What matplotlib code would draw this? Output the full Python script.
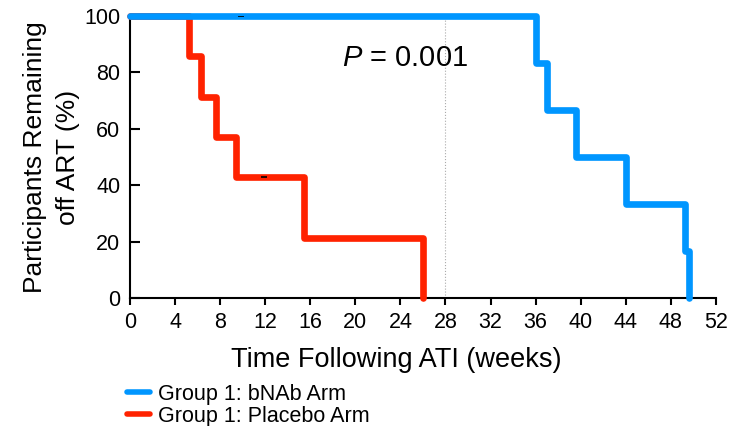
import numpy as np
import matplotlib.pyplot as plt

plt.rcParams['font.family'] = ['Liberation Sans', 'DejaVu Sans']
plt.rcParams['mathtext.fontset'] = 'custom'
plt.rcParams['mathtext.it'] = 'Liberation Sans:italic'
plt.rcParams['mathtext.rm'] = 'Liberation Sans'

# Kaplan-Meier style data
placebo_weeks = [0, 5.2, 6.3, 7.6, 9.4, 15.4, 26.0]
placebo_pct = [100, 85.7, 71.4, 57.1, 42.9, 21.4, 0]
bnab_weeks = [0, 36.0, 37.0, 39.6, 44.0, 49.3, 49.6]
bnab_pct = [100, 83.3, 66.7, 50.0, 33.3, 16.7, 0]
censor_weeks = [9.8, 11.9]
censor_pct = [100, 43]
x_ticks = list(range(0, 53, 4))
y_ticks = [0, 20, 40, 60, 80, 100]

blue = '#0096ff'
red = '#ff2200'

fig = plt.figure(figsize=(7.44, 4.26), dpi=100)
ax = fig.add_axes([0.175, 0.3005, 0.787, 0.662])

ax.axvline(28, color='#aaaaaa', lw=0.8, ls=':', zorder=1)

ax.step(placebo_weeks, placebo_pct, where='post', color=red, lw=4.8,
        solid_capstyle='round', clip_on=False, zorder=3, label='Group 1: Placebo Arm')
ax.step(bnab_weeks, bnab_pct, where='post', color=blue, lw=4.8,
        solid_capstyle='round', clip_on=False, zorder=4, label='Group 1: bNAb Arm')
ax.plot(censor_weeks, censor_pct, ls='none', marker='_', ms=5, mew=1.2,
        color='black', zorder=5)

ax.text(24.4, 85, '$P$ = 0.001', fontsize=21, ha='center', va='center')

ax.set_xlim(0, 52)
ax.set_ylim(0, 100)
ax.set_xticks(x_ticks)
ax.set_yticks(y_ticks)
ax.tick_params(axis='x', direction='out', length=5, width=1.5, labelsize=15.5, pad=5)
ax.tick_params(axis='y', direction='in', length=7, width=1.5, labelsize=15.5, pad=7)
for s in ['top', 'right']:
    ax.spines[s].set_visible(False)
for s in ['left', 'bottom']:
    ax.spines[s].set_linewidth(1.5)

ax.set_xlabel('Time Following ATI (weeks)', fontsize=19.5)
ax.xaxis.set_label_coords(0.454, -0.175)
ax.set_ylabel('Participants Remaining\noff ART (%)', fontsize=19, linespacing=1.5)
ax.yaxis.set_label_coords(-0.085, 0.5)

handles, labels = ax.get_legend_handles_labels()
leg = fig.legend(handles[::-1], labels[::-1], loc='upper left',
                 bbox_to_anchor=(0.171, 0.099), frameon=False, fontsize=15.5,
                 handlelength=1.05, handletextpad=0.4, labelspacing=0.05,
                 borderaxespad=0, borderpad=0)
for h in leg.get_lines():
    h.set_linewidth(4)

fig.savefig('out.png', dpi=100)
